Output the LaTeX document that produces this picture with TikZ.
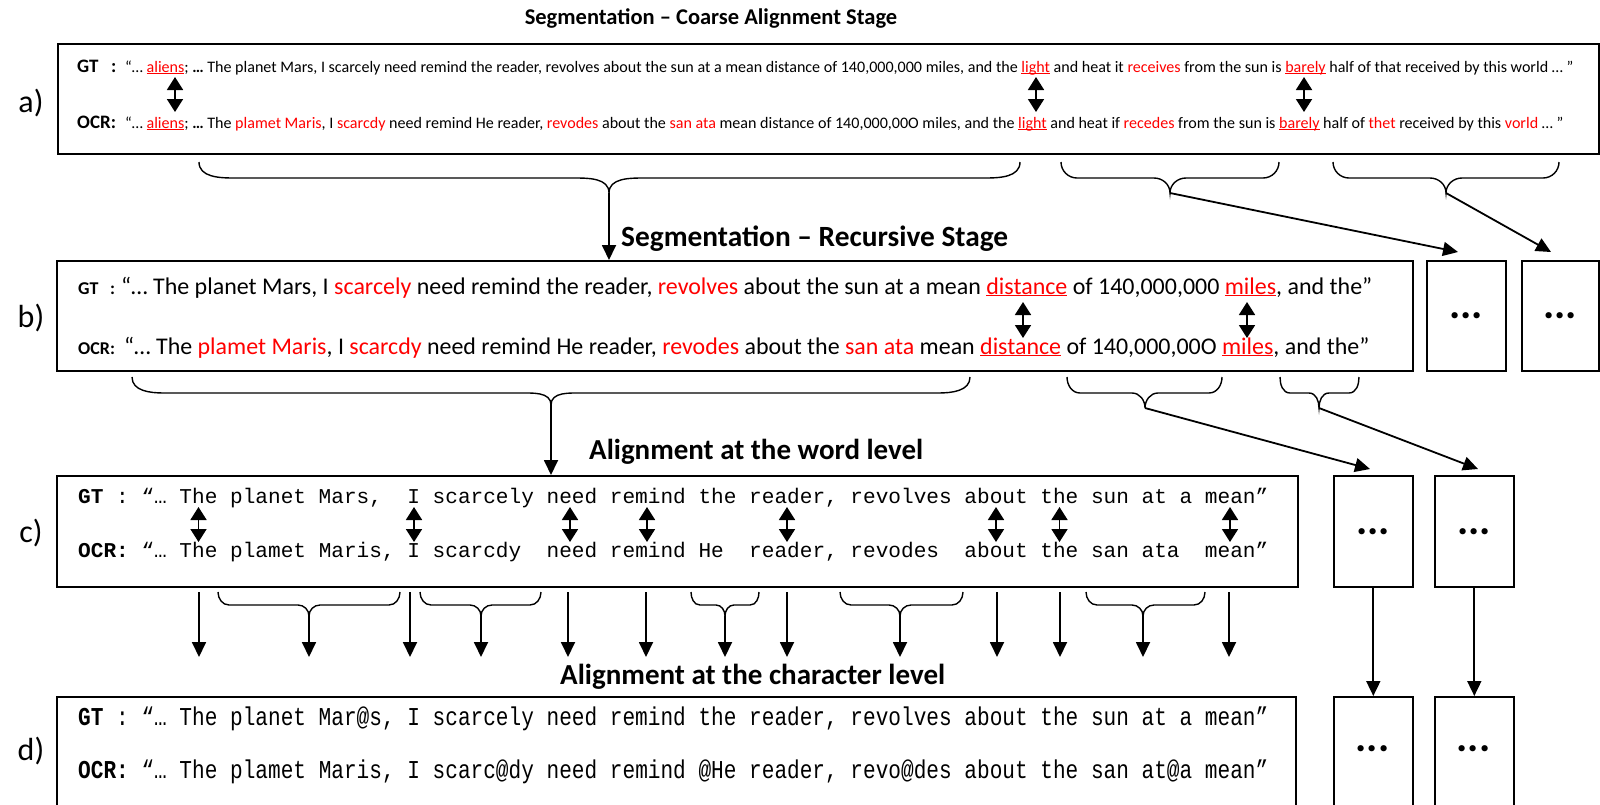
\documentclass[tikz,border=0pt]{standalone}
\usepackage{fontspec}
\setmainfont{Carlito}
\newfontfamily\monof{Liberation Mono}
\usetikzlibrary{arrows.meta}
\definecolor{ocrred}{RGB}{255,0,0}
\newcommand\rd[1]{\textcolor{ocrred}{#1}}
\newcommand\ulr[1]{\textcolor{ocrred}{\setbox0\hbox{#1}\rlap{\rule[-2pt]{\wd0}{1pt}}\box0}}
\newcommand\fs[1]{\fontsize{#1}{#1}\selectfont}
% name, x1, x2, xm, ytop, yflat, ytip, r
\newcommand\ubr[8]{%
  \draw[brace] (#2,#5) to[out=-90,in=180] (#2+#8,#6) -- (#4-#8,#6)
    to[out=0,in=90] (#4,#7) to[out=90,in=180] (#4+#8,#6) -- (#3-#8,#6)
    to[out=0,in=-90] (#3,#5);
  \coordinate (#1) at (#4,#7);}
\begin{document}
\begin{tikzpicture}[x=1pt,y=-1pt,
  box/.style={draw, line width=1.6pt, inner sep=0pt, anchor=north west},
  dotbox/.style={box, font=\bfseries\fs{42}},
  dbl/.style={line width=1.8pt, arrows={Triangle[width=16pt,length=13pt]-Triangle[width=16pt,length=13pt]}},
  down/.style={line width=1.8pt, arrows={-Triangle[width=14pt,length=15pt]}},
  brace/.style={line width=1.4pt},
  txt/.style={inner sep=0pt, anchor=base west},
  ttl/.style={inner sep=0pt, anchor=base west, font=\bfseries},
  rowlab/.style={inner sep=0pt, font=\fs{32}}]
\useasboundingbox (0,0) rectangle (1600,804);
\clip (0,0) rectangle (1600,804);
\fill[white] (0,0) rectangle (1600,804);

% ---------- titles
\node[inner sep=0pt, anchor=base, font=\bfseries\fs{22.5}] (tA) at (711,24) {Segmentation – Coarse Alignment Stage};
\node[ttl] (tB) at (621,246) {\resizebox{387pt}{!}{\fs{22}Segmentation – Recursive Stage}};
\node[ttl] (tC) at (589,459) {\resizebox{334pt}{!}{\fs{22}Alignment at the word level}};
\node[ttl] (tD) at (560,684) {\resizebox{385pt}{!}{\fs{22}Alignment at the character level}};

% ---------- row labels
\node[rowlab] (la) at (31,103) {a)};
\node[rowlab] (lb) at (31,318) {b)};
\node[rowlab] (lc) at (31,533) {c)};
\node[rowlab] (ld) at (31,751) {d)};

% ---------- boxes
\node[box, minimum width=1541pt, minimum height=110pt] (A) at (57,43) {};
\node[box, minimum width=1356pt, minimum height=110pt] (B) at (56,260) {};
\node[dotbox, minimum width=79pt, minimum height=110pt] (B1) at (1426,260) {...};
\node[dotbox, minimum width=77pt, minimum height=110pt] (B2) at (1521,260) {...};
\node[box, minimum width=1241pt, minimum height=111pt] (C) at (56,475) {};
\node[dotbox, minimum width=79pt, minimum height=111pt] (C1) at (1333,475) {...};
\node[dotbox, minimum width=79pt, minimum height=111pt] (C2) at (1434,475) {...};
\node[box, minimum width=1239pt, minimum height=140pt] (D) at (56,696) {};
\node[box, minimum width=79pt, minimum height=140pt] (D1) at (1333,696) {};
\node[box, minimum width=79pt, minimum height=140pt] (D2) at (1434,696) {};
\node[inner sep=0pt, font=\bfseries\fs{42}] (D1t) at (1372.5,749) {...};
\node[inner sep=0pt, font=\bfseries\fs{42}] (D2t) at (1473.5,749) {...};

% ---------- row a text
\node[txt, font=\bfseries\fs{19}] (agl) at (77,72) {GT};
\node[txt, font=\bfseries\fs{19}] (agc) at (111,72) {:};
\node[txt, font=\bfseries\fs{19}] (aol) at (77,128) {OCR:};
\node[txt, font=\fs{15}] (agt) at (125,72) {\resizebox{1448pt}{!}{“… \ulr{aliens}; \textbf{…} The planet Mars, I scarcely need remind the reader, revolves about the sun at a mean distance of 140,000,000 miles, and the \ulr{light} and heat it \rd{receives} from the sun is \ulr{barely} half of that received by this world … ”}};
\node[txt, font=\fs{15}] (aocr) at (125,128) {\resizebox{1438pt}{!}{“… \ulr{aliens}; \textbf{…} The \rd{plamet Maris}, I \rd{scarcdy} need remind He reader, \rd{revodes} about the \rd{san ata} mean distance of 140,000,00O miles, and the \ulr{light} and heat if \rd{recedes} from the sun is \ulr{barely} half of \rd{thet} received by this \rd{vorld} … ”}};

\coordinate (a1t) at (175,77);  \coordinate (a1b) at (175,112);
\coordinate (a2t) at (1036,77); \coordinate (a2b) at (1036,112);
\coordinate (a3t) at (1304,77); \coordinate (a3b) at (1304,112);
\draw[dbl] (a1t) -- (a1b);
\draw[dbl] (a2t) -- (a2b);
\draw[dbl] (a3t) -- (a3b);

% ---------- row b text
\node[txt, font=\bfseries\fs{18}] (bgl) at (78,294) {GT};
\node[txt, font=\bfseries\fs{18}] (bgc) at (110,294) {:};
\node[txt, font=\bfseries\fs{18}] (bol) at (78,354) {OCR:};
\node[txt, font=\fs{22}] (bgt) at (121,294) {\resizebox{1251pt}{!}{“… The planet Mars, I \rd{scarcely} need remind the reader, \rd{revolves} about the sun at a mean \ulr{distance} of 140,000,000 \ulr{miles}, and the”}};
\node[txt, font=\fs{22}] (bocr) at (124,354) {\resizebox{1245pt}{!}{“… The \rd{plamet Maris}, I \rd{scarcdy} need remind He reader, \rd{revodes} about the \rd{san ata} mean \ulr{distance} of 140,000,00O \ulr{miles}, and the”}};

\coordinate (b1t) at (1023,302); \coordinate (b1b) at (1023,338);
\coordinate (b2t) at (1247,302); \coordinate (b2b) at (1247,338);
\draw[dbl] (b1t) -- (b1b);
\draw[dbl] (b2t) -- (b2b);

% ---------- row c text
\node[txt, font=\monof\fs{21.1}] (cgt) at (78,503) {\textbf{GT} : “… The planet Mars,~ I scarcely need remind the reader, revolves about the sun at a mean”};
\node[txt, font=\monof\fs{21.1}] (cocr) at (78,557) {\textbf{OCR:} “… The plamet Maris, I scarcdy~ need remind He~ reader, revodes~ about the san ata~ mean”};

\foreach \n/\x in {1/198.5,2/414,3/570,4/647,5/787,6/996,7/1059.5,8/1230}{
  \coordinate (ct\n) at (\x,507); \coordinate (cb\n) at (\x,542);
  \draw[dbl] (ct\n) -- (cb\n);
}

% ---------- row d text
\node[txt, font=\monof\fs{21.1}] (dgt) at (78,725) {\scalebox{1}[1.22]{\textbf{GT} : “… The planet Mar@s, I scarcely need remind the reader, revolves about the sun at a mean”}};
\node[txt, font=\monof\fs{21.1}] (docr) at (78,778) {\scalebox{1}[1.22]{\textbf{OCR:} “… The plamet Maris, I scarc@dy need remind @He reader, revo@des about the san at@a mean”}};

% ---------- braces under a
\ubr{ba1}{199}{1020}{609}{162}{178}{193}{35}
\ubr{ba2}{1061}{1279}{1170}{162}{178}{193}{16}
\ubr{ba3}{1333}{1559}{1446}{162}{178}{193}{16}
\coordinate (B1in) at (1458,252);
\coordinate (B2in) at (1551,252);
\draw[down] (ba1) -- (ba1 |- B.north);
\draw[down] (ba2) -- (B1in);
\draw[down] (ba3) -- (B2in);

% ---------- braces under b
\ubr{bb1}{132}{970}{551}{377}{393}{405}{32}
\ubr{bb2}{1067}{1222}{1145}{377}{393}{408}{13}
\ubr{bb3}{1280}{1359}{1319}{377}{393}{408}{10}
\coordinate (C1in) at (1370,469);
\coordinate (C2in) at (1478,469);
\draw[down] (bb1) -- (bb1 |- C.north);
\draw[down] (bb2) -- (C1in);
\draw[down] (bb3) -- (C2in);

% ---------- c to d
\foreach \n/\x in {1/199,2/410,3/568,4/646,5/787,6/997,7/1060,8/1229}{
  \coordinate (st\n) at (\x,592); \coordinate (sb\n) at (\x,657);
  \draw[down] (st\n) -- (sb\n);
}
\ubr{bc1}{218}{400}{309}{592}{605}{616}{11}
\ubr{bc2}{420}{541}{481}{592}{605}{616}{11}
\ubr{bc3}{691}{759}{725}{592}{605}{616}{9}
\ubr{bc4}{840}{963}{900}{592}{605}{616}{11}
\ubr{bc5}{1086}{1205}{1143}{592}{605}{616}{11}
\foreach \b in {bc1,bc2,bc3,bc4,bc5}{
  \draw[down] (\b) -- (\b |- sb1);
}
\draw[down] (C1.south) -- (D1.north);
\draw[down] (C2.south) -- (D2.north);
\end{tikzpicture}
\end{document}
